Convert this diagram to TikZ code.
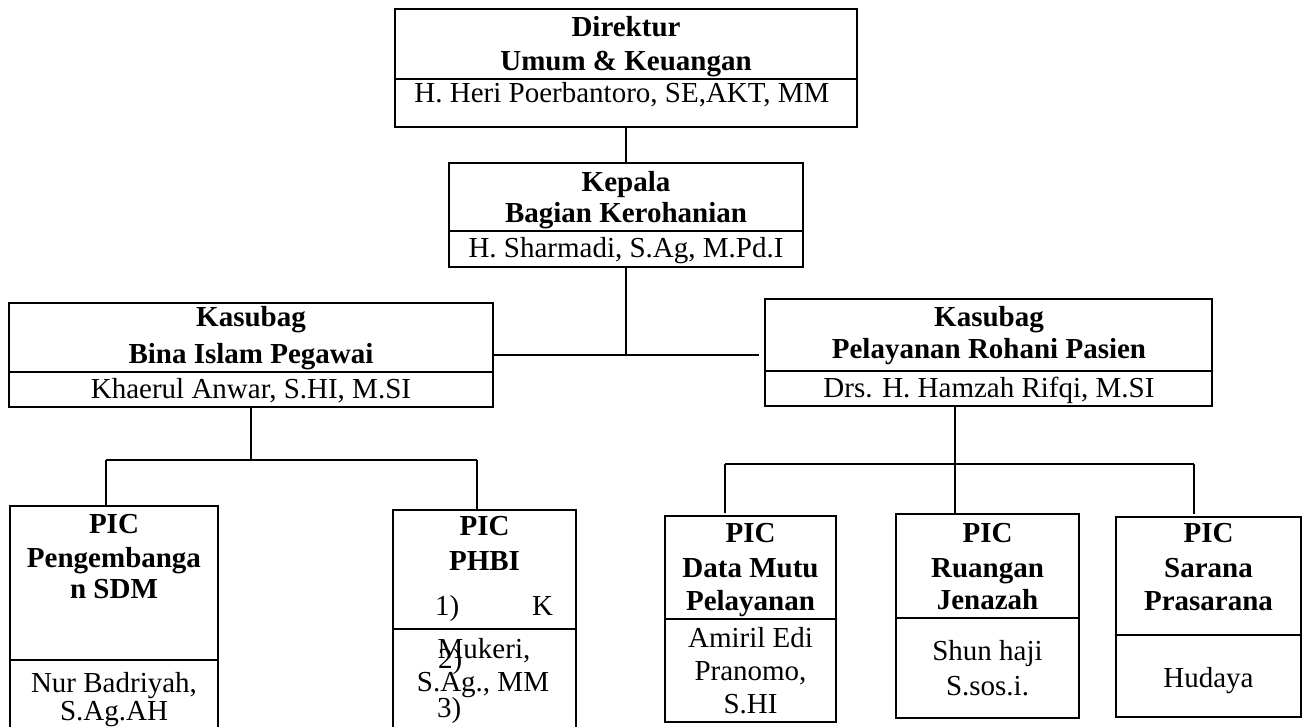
\documentclass[tikz,border=0pt]{standalone}
\usepackage{fontspec}
\setmainfont{Liberation Serif}
\begin{document}
\begin{tikzpicture}[x=1pt,y=-1pt,
  box/.style={draw,line width=2.2pt,rectangle,inner sep=0pt,outer sep=0pt},
  conn/.style={line width=1.8pt},
  divl/.style={line width=2pt},
  hd/.style={anchor=base,inner sep=0pt,font=\fontsize{29}{33}\selectfont\bfseries},
  tx/.style={anchor=base,inner sep=0pt,font=\fontsize{29}{33}\selectfont},
]
\useasboundingbox (0,0) rectangle (1307,727);
\fill[white] (0,0) rectangle (1307,727);

% ---------- Direktur ----------
\node[box,minimum width=462pt,minimum height=118pt] (dir) at (626,68) {};
\draw[divl] (395,79) -- (857,79);
\node[hd] (dir1) at (626,37) {Direktur};
\node[hd] (dir2) at (626,71) {Umum \& Keuangan};
\node[tx] (dir3) at (622,103) {H. Heri Poerbantoro, SE,AKT, MM};

% ---------- Kepala ----------
\node[box,minimum width=354pt,minimum height=104pt] (kep) at (626,215) {};
\draw[divl] (449,231) -- (803,231);
\node[hd] (kep1) at (626,192) {Kepala};
\node[hd] (kep2) at (626,223) {Bagian Kerohanian};
\node[tx] (kep3) at (626,258) {H. Sharmadi, S.Ag, M.Pd.I};

% ---------- Kasubag left ----------
\node[box,minimum width=484pt,minimum height=104pt] (ksL) at (251,355) {};
\draw[divl] (9,372) -- (493,372);
\node[hd] (ksL1) at (251,327) {Kasubag};
\node[hd] (ksL2) at (251,363) {Bina Islam Pegawai};
\node[tx] (ksL3) at (251,398) {Khaerul Anwar, S.HI, M.SI};

% ---------- Kasubag right ----------
\node[box,minimum width=447pt,minimum height=107pt] (ksR) at (988.5,352.5) {};
\draw[divl] (765,371) -- (1212,371);
\node[hd] (ksR1) at (989,327) {Kasubag};
\node[hd] (ksR2) at (989,359) {Pelayanan Rohani Pasien};
\node[tx] (ksR3) at (989,397) {Drs. H. Hamzah Rifqi, M.SI};

% ---------- PIC Pengembangan SDM ----------
\node[box,minimum width=208pt,minimum height=229pt] (pic1) at (114,620.5) {};
\draw[divl] (10,660) -- (218,660);
\node[hd] (p1a) at (114,533) {PIC};
\node[hd] (p1b) at (114,567) {Pengembanga};
\node[hd] (p1c) at (114,598) {n SDM};
\node[tx] (p1d) at (114,692) {Nur Badriyah,};
\node[tx] (p1e) at (114,720) {S.Ag.AH};

% ---------- PIC PHBI ----------
\node[box,minimum width=183pt,minimum height=225pt] (pic2) at (484.5,622.5) {};
\draw[divl] (393,629) -- (576,629);
\node[hd] (p2a) at (484.5,535) {PIC};
\node[hd] (p2b) at (484.5,570) {PHBI};
\node[tx,anchor=base west] (p2c) at (435,615) {1)};
\node[tx,anchor=base west] (p2d) at (532,615) {K};
\node[tx] (p2e) at (484,658) {Mukeri,};
\node[tx,anchor=base west] (p2f) at (438,668) {2)};
\node[tx] (p2g) at (483,691) {S.Ag., MM};
\node[tx,anchor=base west] (p2h) at (437,717) {3)};

% ---------- PIC Data Mutu Pelayanan ----------
\node[box,minimum width=171pt,minimum height=206pt] (pic3) at (750.5,619) {};
\draw[divl] (665,619) -- (836,619);
\node[hd] (p3a) at (750.5,542) {PIC};
\node[hd] (p3b) at (750.5,577) {Data Mutu};
\node[hd] (p3c) at (750.5,610) {Pelayanan};
\node[tx] (p3d) at (750.5,647) {Amiril Edi};
\node[tx] (p3e) at (750.5,680) {Pranomo,};
\node[tx] (p3f) at (750.5,713) {S.HI};

% ---------- PIC Ruangan Jenazah ----------
\node[box,minimum width=183pt,minimum height=204pt] (pic4) at (987.5,616) {};
\draw[divl] (896,618) -- (1079,618);
\node[hd] (p4a) at (987.5,542) {PIC};
\node[hd] (p4b) at (987.5,577) {Ruangan};
\node[hd] (p4c) at (987.5,609) {Jenazah};
\node[tx] (p4d) at (987.5,660) {Shun haji};
\node[tx] (p4e) at (987.5,695) {S.sos.i.};

% ---------- PIC Sarana Prasarana ----------
\node[box,minimum width=185pt,minimum height=200pt] (pic5) at (1208.5,617) {};
\draw[divl] (1116,635) -- (1301,635);
\node[hd] (p5a) at (1208.5,542) {PIC};
\node[hd] (p5b) at (1208.5,577) {Sarana};
\node[hd] (p5c) at (1208.5,610) {Prasarana};
\node[tx] (p5d) at (1208.5,687) {Hudaya};

% ---------- connectors ----------
\draw[conn] (dir.south) -- (kep.north);
\draw[conn] (kep.south) -- (kep.south |- ksL.east);
\draw[conn,shorten >=6pt] (ksL.east) -- (ksL.east -| ksR.west);

\coordinate (jL) at (251,460);
\coordinate (l1) at (106,460);
\coordinate (l2) at (477,460);
\draw[conn] (ksL.south) -- (jL);
\draw[conn] (l1) -- (l2);
\draw[conn] (l1) -- (l1 |- pic1.north);
\draw[conn] (l2) -- (l2 |- pic2.north);

\coordinate (jR) at (955,464);
\coordinate (r1) at (725,464);
\coordinate (r3) at (1194,464);
\draw[conn] (jR |- ksR.south) -- (jR);
\draw[conn] (r1) -- (r3);
\draw[conn,shorten >=3pt] (r1) -- (r1 |- pic3.north);
\draw[conn] (jR) -- (jR |- pic4.north);
\draw[conn,shorten >=3pt] (r3) -- (r3 |- pic5.north);
\end{tikzpicture}
\end{document}
